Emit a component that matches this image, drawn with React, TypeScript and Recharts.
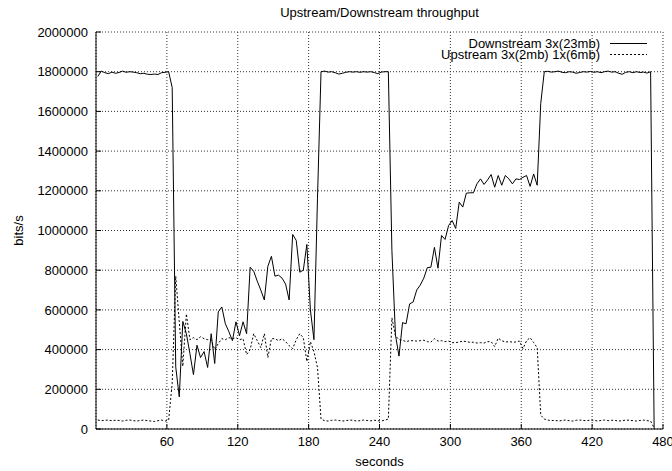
import { CartesianGrid, Line, LineChart, XAxis, YAxis } from 'recharts';

// samples are taken every 3 seconds, first one at 1.5s
const SAMPLE_START = 1.5;
const SAMPLE_STEP = 3;

const downstream = [
  1776000, 1803000, 1795000, 1790000, 1798000, 1792000, 1796000, 1803000, 1797000, 1800000,
  1798000, 1795000, 1790000, 1792000, 1787000, 1786000, 1788000, 1786000, 1795000, 1797000,
  1800000, 1720000,
  313000, 162000, 542000, 480000, 380000, 274000, 422000, 360000, 390000, 310000,
  480000, 330000, 590000, 615000, 530000, 490000, 445000, 540000, 470000, 540000,
  480000, 815000, 795000, 745000, 700000, 650000, 820000, 870000, 770000, 775000,
  760000, 730000, 650000, 980000, 950000, 790000, 800000, 930000, 600000, 450000,
  1160000,
  1800000, 1803000, 1798000, 1800000, 1795000, 1788000, 1792000, 1797000, 1800000, 1798000,
  1800000, 1797000, 1800000, 1798000, 1800000, 1796000, 1790000, 1798000, 1800000, 1800000,
  900000, 475000, 367000,
  536000, 530000, 630000, 640000, 700000, 725000, 760000, 813000, 815000, 915000,
  810000, 975000, 955000, 1025000, 1050000, 1010000, 1143000, 1118000, 1188000, 1190000,
  1190000, 1235000, 1260000, 1232000, 1255000, 1282000, 1218000, 1277000, 1228000, 1277000,
  1260000, 1235000, 1260000, 1257000, 1268000, 1277000, 1222000, 1285000, 1228000, 1640000,
  1800000, 1802000, 1798000, 1800000, 1803000, 1797000, 1795000, 1800000, 1798000, 1792000,
  1796000, 1800000, 1798000, 1801000, 1797000, 1800000, 1795000, 1800000, 1803000, 1798000,
  1800000, 1792000, 1787000, 1797000, 1800000, 1795000, 1800000, 1796000, 1798000, 1793000,
  1800000, 0,
];

const upstream = [
  45000, 42000, 44000, 45000, 42000, 44000, 43000, 40000, 44000, 45000,
  42000, 40000, 43000, 45000, 42000, 40000, 38000, 42000, 45000, 40000,
  45000, 230000,
  770000, 540000, 316000, 580000, 450000, 460000, 450000, 465000, 455000, 450000,
  450000, 400000, 430000, 455000, 450000, 460000, 455000, 460000, 450000, 455000,
  375000, 400000, 480000, 445000, 410000, 480000, 360000, 455000, 455000, 445000,
  455000, 440000, 420000, 405000, 450000, 480000, 460000, 340000, 440000, 390000,
  310000,
  50000, 42000, 40000, 44000, 45000, 43000, 40000, 42000, 45000, 44000,
  40000, 42000, 45000, 43000, 41000, 44000, 42000, 40000, 45000, 50000,
  560000, 470000, 450000,
  447000, 440000, 445000, 445000, 443000, 445000, 447000, 440000, 438000, 455000,
  443000, 445000, 440000, 443000, 435000, 435000, 438000, 443000, 440000, 437000,
  437000, 433000, 435000, 433000, 440000, 440000, 415000, 458000, 445000, 438000,
  440000, 438000, 438000, 443000, 405000, 445000, 460000, 435000, 410000, 70000,
  50000, 45000, 42000, 44000, 40000, 43000, 45000, 42000, 40000, 44000,
  45000, 43000, 42000, 45000, 44000, 40000, 43000, 45000, 42000, 44000,
  43000, 40000, 42000, 45000, 44000, 42000, 40000, 43000, 45000, 42000,
  40000, 5000,
];

const secondTicks = [60, 120, 180, 240, 300, 360, 420, 480];
const rateTicks = [
  0, 200000, 400000, 600000, 800000, 1000000, 1200000, 1400000, 1600000, 1800000, 2000000,
];

const title = 'Upstream/Downstream throughput';

const series = [
  { key: 'downstream', name: 'Downstream 3x(23mb)', dash: undefined },
  { key: 'upstream', name: 'Upstream 3x(2mb) 1x(6mb)', dash: '2 2' },
];

const data = downstream.map((value, i) => ({
  seconds: SAMPLE_START + i * SAMPLE_STEP,
  downstream: value,
  upstream: upstream[i],
}));

const font = '"Liberation Sans", Arial, Helvetica, sans-serif';
const tickStyle = { fill: '#000', fontSize: 13 };

// title + key, drawn over the chart like gnuplot does
function Overlay() {
  return (
    <svg
      width={672}
      height={70}
      style={{ position: 'absolute', left: 0, top: 0, pointerEvents: 'none' }}
    >
      <text x={379.5} y={17} textAnchor="middle" fontSize={13} fill="#000">
        {title}
      </text>
      {series.map((s, i) => (
        <g key={s.key}>
          <text x={600} y={48 + i * 11} textAnchor="end" fontSize={13} fill="#000">
            {s.name}
          </text>
          <line
            x1={610}
            x2={647}
            y1={43.5 + i * 11}
            y2={43.5 + i * 11}
            stroke="#000"
            strokeWidth={1}
            strokeDasharray={s.dash}
          />
        </g>
      ))}
    </svg>
  );
}

export default function App() {
  return (
    <div
      style={{
        position: 'absolute',
        left: 0,
        top: 0,
        width: 672,
        height: 471,
        background: '#fff',
        fontFamily: font,
      }}
    >
      <LineChart
        width={672}
        height={471}
        data={data}
        margin={{ top: 32, right: 9, bottom: 0, left: 0 }}
      >
        <CartesianGrid stroke="#333" strokeDasharray="1 2" />
        <XAxis
          dataKey="seconds"
          type="number"
          domain={[0, 480]}
          ticks={secondTicks}
          interval={0}
          height={42}
          tickSize={-5}
          tickMargin={13}
          stroke="#000"
          tick={tickStyle}
          label={{ value: 'seconds', position: 'insideBottom', offset: 5, fill: '#000', fontSize: 13 }}
        />
        <XAxis
          xAxisId="top"
          orientation="top"
          dataKey="seconds"
          type="number"
          domain={[0, 480]}
          ticks={secondTicks}
          interval={0}
          height={0}
          tickSize={-5}
          tick={false}
          stroke="#000"
        />
        <YAxis
          type="number"
          domain={[0, 2000000]}
          ticks={rateTicks}
          interval={0}
          width={96}
          tickSize={-5}
          tickMargin={13}
          stroke="#000"
          tick={tickStyle}
          label={{
            value: 'bits/s',
            angle: -90,
            position: 'insideLeft',
            offset: 18,
            fill: '#000',
            fontSize: 13,
            style: { textAnchor: 'middle' },
          }}
        />
        <YAxis
          yAxisId="right"
          orientation="right"
          type="number"
          domain={[0, 2000000]}
          ticks={rateTicks}
          interval={0}
          width={0}
          tickSize={-5}
          tick={false}
          stroke="#000"
        />
        {series.map(s => (
          <Line
            key={s.key}
            dataKey={s.key}
            name={s.name}
            type="linear"
            stroke="#000"
            strokeWidth={1}
            strokeDasharray={s.dash}
            dot={false}
            activeDot={false}
            isAnimationActive={false}
          />
        ))}
      </LineChart>
      <Overlay />
    </div>
  );
}
